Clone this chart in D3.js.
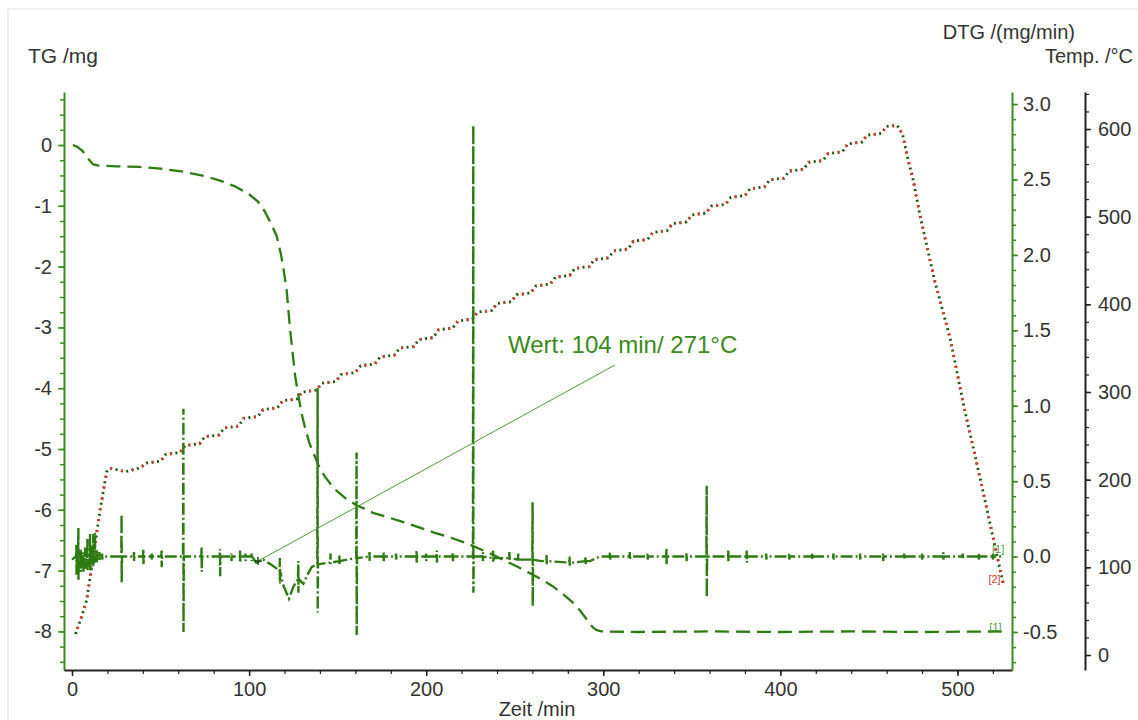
<!DOCTYPE html>
<html lang="de">
<head>
<meta charset="utf-8">
<title>TG / DTG / Temperatur</title>
<script src="https://d3js.org/d3.v7.min.js"></script>
<style>
  body { margin: 0; background: #fff; }
  svg text { font-family: "Liberation Sans", Arial, sans-serif; }
</style>
</head>
<body>
<div id="chart"></div>
<script>
// TG curve: [time /min, mass change /mg]
const tgData = [
  [0.5, 0], [3, -0.03], [6, -0.1], [9, -0.22], [12, -0.32], [15, -0.34], [25, -0.35],
  [38, -0.36], [50, -0.39], [63, -0.44], [75, -0.51], [84, -0.59], [92, -0.68],
  [100, -0.81], [105, -0.93], [109, -1.1], [112.5, -1.3], [115.6, -1.5], [118, -1.8],
  [119.5, -2.05], [121.2, -2.38], [123, -2.99], [124.8, -3.48], [126, -3.8],
  [127.6, -4.08], [129.5, -4.4], [131.6, -4.65], [134, -4.9], [137.2, -5.13],
  [140, -5.32], [142.9, -5.46], [148, -5.65], [154, -5.8], [160.4, -5.92], [170, -6.05],
  [178, -6.12], [188, -6.21], [196, -6.29], [204, -6.37], [214, -6.46], [222.9, -6.55],
  [230, -6.64], [237.8, -6.74], [244, -6.83], [251, -6.93], [260.3, -7.07], [266, -7.16],
  [271.6, -7.26], [277, -7.38], [283, -7.53], [287, -7.66], [290.6, -7.8], [294, -7.93],
  [296.3, -7.98], [299, -8.0], [320, -8.01], [360, -8.0], [400, -8.01], [440, -8.0],
  [480, -8.01], [525, -8.0]
];

// temperature: [time /min, temp /°C] (stepped ramp)
const tempData = [
  [2, 24], [5.5, 44], [8.3, 63], [12, 112], [15.8, 165], [19.6, 209], [21.5, 213],
  [26, 211], [30, 209], [36, 212], [39, 214],
  [42, 219], [50, 221], [53, 229], [61, 231], [64, 239], [72, 241], [75, 249], [83, 251],
  [86, 259], [94, 261], [97, 270], [105, 272], [108, 280], [116, 282], [119, 290], [127, 292],
  [130, 300], [138, 302], [141, 310], [149, 312], [152, 320], [160, 322], [163, 330], [171, 332],
  [174, 340], [182, 342], [185, 350], [193, 352], [196, 360], [204, 362], [207, 371], [215, 373],
  [218, 381], [226, 383], [229, 391], [237, 393], [240, 401], [248, 403], [251, 411], [259, 413],
  [262, 421], [270, 423], [273, 431], [281, 433], [284, 441], [292, 443], [295, 451], [303, 453],
  [306, 461], [314, 463], [317, 472], [325, 474], [328, 482], [336, 484], [339, 492], [347, 494],
  [350, 502], [358, 504], [361, 512], [369, 514], [372, 522], [380, 524], [383, 532], [391, 534],
  [394, 542], [402, 544], [405, 552], [413, 554], [416, 562], [424, 564], [427, 572], [435, 574],
  [438, 583], [446, 585], [449, 593], [457, 595], [460, 603], [466, 604],
  [469, 594], [472, 566], [475, 542], [479, 500], [487, 428], [496, 360], [504, 280],
  [513, 200], [520, 135], [526, 80]
];

// DTG baseline: [time, mg/min]
const dtgBase = [
  [0, -0.02], [2, 0], [5, -0.05], [8, -0.03], [10, -0.05], [12, -0.02], [15, 0], [20, 0],
  [60, 0], [100, 0], [104, -0.04], [108, -0.02], [112, -0.05], [115.6, -0.08], [119, -0.18],
  [122.5, -0.28], [125, -0.2], [128, -0.14], [130.6, -0.18], [133, -0.12], [135.3, -0.07],
  [140, -0.05], [144.6, -0.04], [151, -0.03], [160, -0.01], [170, 0], [230, 0], [240, -0.01],
  [255, -0.02], [265, -0.03], [283, -0.04], [292.5, -0.03], [298, 0], [525, 0]
];

// DTG spikes: [time, level, top, bottom]
const dtgSpikes = [
  [2.5, -0.01, 0.08, -0.12], [3.6, -0.02, 0.19, -0.16], [5, -0.05, 0.05, -0.1],
  [6.4, -0.04, 0.03, -0.11], [7.5, -0.03, 0.06, -0.08], [8.7, -0.04, 0.12, -0.09],
  [10.2, -0.05, 0.15, -0.09], [11.2, -0.03, 0.08, -0.07], [12, -0.02, 0.15, -0.06],
  [13, -0.01, 0.16, -0.04], [14, 0, 0.05, -0.04], [15.5, 0, 0.03, -0.03], [17, 0, 0.02, -0.02],
  [28, 0, 0.28, -0.17], [35, 0, 0.03, -0.03], [40.3, 0, 0.05, -0.05], [45, 0, 0.02, -0.02],
  [50.6, 0, 0.04, -0.07], [62.9, 0, 0.98, -0.5], [73.2, 0, 0.06, -0.1], [83.6, 0, 0.05, -0.13],
  [90, 0, 0.02, -0.03], [94.9, 0, 0.04, -0.04], [98, 0, 0.02, -0.03], [101.4, 0, 0.02, -0.03],
  [117.4, -0.1, -0.01, -0.18], [127.8, -0.15, -0.03, -0.24], [138.7, -0.05, 1.12, -0.37],
  [146, -0.04, 0.02, -0.05], [151, -0.03, 0.01, -0.05], [160.7, -0.01, 0.69, -0.52],
  [168, 0, 0.03, -0.03], [176, 0, 0.03, -0.03], [183, 0, 0.02, -0.02], [194.6, 0, 0.04, -0.04],
  [200, 0, 0.02, -0.03], [206, 0, 0.04, -0.04], [215, 0, 0.03, -0.03], [226.6, 0, 2.86, -0.24],
  [232, 0, 0.03, -0.03], [237.8, -0.01, 0.04, -0.04], [247, -0.01, 0.03, -0.03],
  [252, -0.02, 0.02, -0.03], [260.1, -0.02, 0.36, -0.33], [268, -0.03, 0.01, -0.05],
  [281, -0.04, 0, -0.06], [290, -0.03, 0, -0.05], [303.8, 0, 0.03, -0.02], [315, 0, 0.03, -0.02],
  [325, 0, 0.02, -0.02], [335.7, 0, 0.05, -0.05], [347, 0, 0.03, -0.03], [358.4, 0, 0.47, -0.27],
  [370.6, 0, 0.04, -0.04], [381, 0, 0.04, -0.04], [392, 0, 0.02, -0.02], [405, 0, 0.02, -0.02],
  [418, 0, 0.02, -0.02], [430, 0, 0.02, -0.02], [445, 0, 0.02, -0.02], [458, 0, 0.02, -0.03],
  [470, 0, 0.02, -0.02], [480, 0, 0.02, -0.02], [492, 0, 0.03, -0.02], [503, 0, 0.02, -0.02],
  [512, 0, 0.02, -0.02], [520, 0, 0.02, -0.02]
];

const timeTicks = [0, 100, 200, 300, 400, 500];
const tgTicks = [0, -1, -2, -3, -4, -5, -6, -7, -8];
const dtgTicks = [3.0, 2.5, 2.0, 1.5, 1.0, 0.5, 0.0, -0.5];
const tempTicks = [0, 100, 200, 300, 400, 500, 600];

// marker "Wert": point on the DTG trace and where the leader line ends
const markerPoint = [105, -0.03];
const markerLabelEnd = [306.6, 1.27];
const markerText = "Wert: 104 min/ 271°C";

const green = "#2e7b13";
const axisGreen = "#3c8c22";
const red = "#d83a2a";

const width = 1138, height = 720;
const plot = { left: 64, right: 1012, top: 92, bottom: 670 };

const svg = d3.select("#chart").append("svg")
  .attr("width", width)
  .attr("height", height);

// faint frame round the picture
svg.append("rect")
  .attr("x", 8).attr("y", 9)
  .attr("width", 1200).attr("height", 800)
  .attr("fill", "none")
  .attr("stroke", "#e6e6e6");

// scales
const x = d3.scaleLinear().domain([-4.52, 530.8]).range([plot.left, plot.right]);
const yTG = d3.scaleLinear().domain([-8.635, 0.872]).range([plot.bottom, plot.top]);
const yDTG = d3.scaleLinear().domain([-0.752, 3.08]).range([plot.bottom, plot.top]);
const yTemp = d3.scaleLinear().domain([-17.1, 642.2]).range([plot.bottom, plot.top]);

function styleAxis(g, color) {
  g.attr("font-size", 20).attr("font-family", null);
  g.select(".domain").attr("stroke", color).attr("stroke-width", 2);
  g.selectAll(".tick line").attr("stroke", color).attr("stroke-width", 1.5);
  g.selectAll(".tick text").attr("fill", "#333");
}

// minor ticks first
svg.append("g")
  .attr("transform", `translate(${plot.left},0)`)
  .call(d3.axisLeft(yTG).tickValues(d3.range(-8.5, 0.8, 0.25)).tickSize(4).tickFormat(""))
  .call(g => { g.select(".domain").remove(); g.selectAll("line").attr("stroke", axisGreen).attr("stroke-width", 1.5); });
svg.append("g")
  .attr("transform", `translate(0,${plot.bottom})`)
  .call(d3.axisBottom(x).tickValues(d3.range(0, 530, 20)).tickSize(4).tickFormat(""))
  .call(g => { g.select(".domain").remove(); g.selectAll("line").attr("stroke", "#222").attr("stroke-width", 1.2); });
svg.append("g")
  .attr("transform", `translate(${plot.right},0)`)
  .call(d3.axisRight(yDTG).tickValues(d3.range(-0.7, 3.05, 0.1)).tickSize(4).tickFormat(""))
  .call(g => { g.select(".domain").remove(); g.selectAll("line").attr("stroke", axisGreen).attr("stroke-width", 1.5); });
svg.append("g")
  .attr("transform", `translate(1085,0)`)
  .call(d3.axisRight(yTemp).tickValues(d3.range(0, 641, 20)).tickSize(4).tickFormat(""))
  .call(g => { g.select(".domain").remove(); g.selectAll("line").attr("stroke", "#222").attr("stroke-width", 1.2); });

// major axes
svg.append("g")
  .attr("transform", `translate(${plot.left},0)`)
  .call(d3.axisLeft(yTG).tickValues(tgTicks).tickSize(6).tickSizeOuter(0).tickPadding(6).tickFormat(d => String(d)))
  .call(g => styleAxis(g, axisGreen));

svg.append("g")
  .attr("transform", `translate(0,${plot.bottom})`)
  .call(d3.axisBottom(x).tickValues(timeTicks).tickSize(6).tickSizeOuter(0).tickPadding(6).tickFormat(d => String(d)))
  .call(g => styleAxis(g, "#222"));

svg.append("g")
  .attr("transform", `translate(${plot.right},0)`)
  .call(d3.axisRight(yDTG).tickValues(dtgTicks).tickSize(6).tickSizeOuter(0).tickPadding(5).tickFormat(d => d.toFixed(1)))
  .call(g => styleAxis(g, axisGreen));

svg.append("g")
  .attr("transform", `translate(1085,0)`)
  .call(d3.axisRight(yTemp).tickValues(tempTicks).tickSize(6).tickSizeOuter(0).tickPadding(7).tickFormat(d => String(d)))
  .call(g => styleAxis(g, "#222"));

// axis titles
svg.append("text").attr("x", 28).attr("y", 63).attr("font-size", 21).attr("fill", "#333").text("TG /mg");
svg.append("text").attr("x", 1075).attr("y", 39).attr("font-size", 20).attr("fill", "#333")
  .attr("text-anchor", "end").text("DTG /(mg/min)");
svg.append("text").attr("x", 1133).attr("y", 63).attr("font-size", 20).attr("fill", "#333")
  .attr("text-anchor", "end").text("Temp. /°C");
svg.append("text").attr("x", 537).attr("y", 716).attr("font-size", 20).attr("fill", "#333")
  .attr("text-anchor", "middle").text("Zeit /min");

// temperature (two overlapping dotted traces)
const tempLine = d3.line().x(d => x(d[0])).y(d => yTemp(d[1]));
svg.append("path").datum(tempData)
  .attr("d", tempLine).attr("fill", "none")
  .attr("stroke", "#1c560d").attr("stroke-width", 2.8)
  .attr("stroke-dasharray", "2,3.5");
svg.append("path").datum(tempData)
  .attr("d", tempLine).attr("fill", "none")
  .attr("stroke", red).attr("stroke-width", 2.8)
  .attr("stroke-dasharray", "2,9").attr("stroke-dashoffset", 5.5);

// TG
svg.append("path").datum(tgData)
  .attr("d", d3.line().x(d => x(d[0])).y(d => yTG(d[1])))
  .attr("fill", "none").attr("stroke", green).attr("stroke-width", 2.3)
  .attr("stroke-dasharray", "14,7");

// DTG: baseline with spikes merged in
const dtgPoints = dtgBase.slice();
dtgSpikes.forEach(s => {
  dtgPoints.push([s[0] - 0.2, s[1]], [s[0], s[2]], [s[0] + 0.05, s[3]], [s[0] + 0.25, s[1]]);
});
dtgPoints.sort((a, b) => a[0] - b[0]);
svg.append("path").datum(dtgPoints)
  .attr("d", d3.line().x(d => x(d[0])).y(d => yDTG(d[1])))
  .attr("fill", "none").attr("stroke", green).attr("stroke-width", 2.4)
  .attr("stroke-dasharray", "12,3,2,3");

// marker line and label
svg.append("line")
  .attr("x1", x(markerPoint[0])).attr("y1", yDTG(markerPoint[1]))
  .attr("x2", x(markerLabelEnd[0])).attr("y2", yDTG(markerLabelEnd[1]))
  .attr("stroke", "#4f9a3c").attr("stroke-width", 1);
svg.append("path")
  .attr("d", `M${x(markerPoint[0]) - 4},${yDTG(markerPoint[1])}h8M${x(markerPoint[0])},${yDTG(markerPoint[1]) - 4}v8`)
  .attr("stroke", "#1d4a10").attr("stroke-width", 1.5);
svg.append("text")
  .attr("x", 508).attr("y", 353)
  .attr("font-size", 24).attr("fill", "#3b8a1c")
  .text(markerText);

// curve end labels
svg.append("text").attr("x", x(519.5)).attr("y", yDTG(0.024)).attr("font-size", 11).attr("fill", "#4f9a3c").text("[1]");
svg.append("text").attr("x", x(517.5)).attr("y", yTemp(82)).attr("font-size", 11).attr("fill", red).text("[2]");
svg.append("text").attr("x", x(518)).attr("y", yTG(-8.0)).attr("font-size", 11).attr("fill", "#4f9a3c").text("[1]");
</script>
</body>
</html>
